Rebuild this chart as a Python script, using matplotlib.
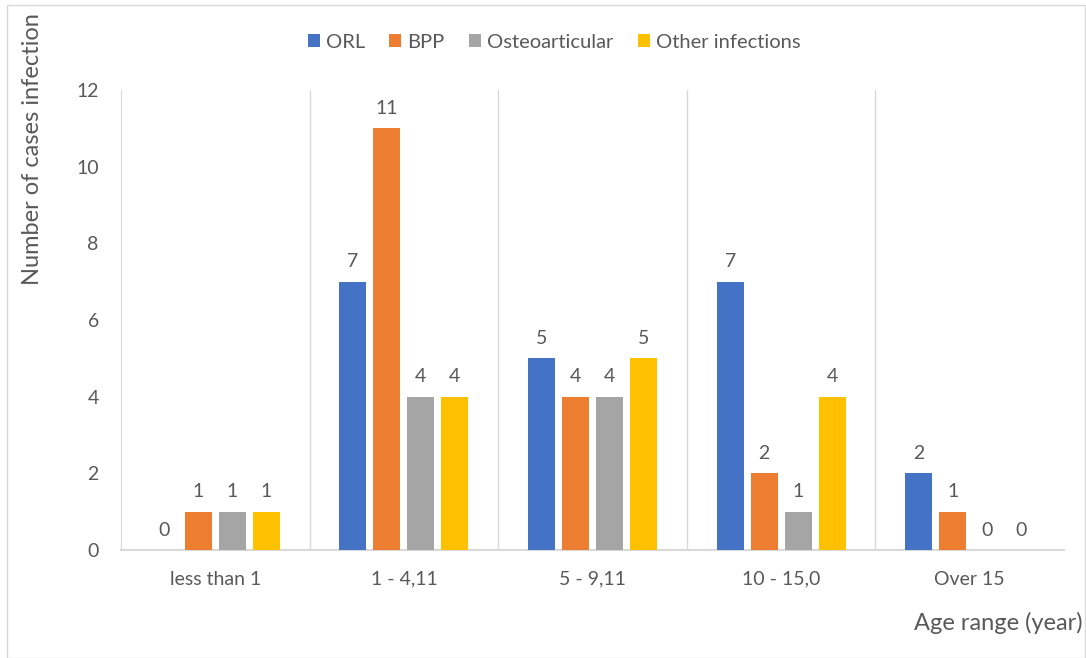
import numpy as np
import matplotlib.pyplot as plt
from matplotlib.patches import Rectangle

plt.rcParams["font.family"] = ["Lato", "DejaVu Sans"]

categories = ["less than 1", "1 - 4,11", "5 - 9,11", "10 - 15,0", "Over 15"]
series_names = ["ORL", "BPP", "Osteoarticular", "Other infections"]
orl = [0, 7, 5, 7, 2]
bpp = [1, 11, 4, 2, 1]
osteo = [1, 4, 4, 1, 0]
other = [1, 4, 5, 4, 0]
colors = ["#4472C4", "#ED7D31", "#A5A5A5", "#FFC000"]

TXT = "#595959"
GRID = "#D9D9D9"

fig = plt.figure(figsize=(10.86, 6.58), dpi=100)
ax = fig.add_axes((121 / 1086, 1 - 550 / 658, 943 / 1086, 460 / 658))

x = np.arange(len(categories))
step = 0.18
width = 0.143
for i, (vals, name, c) in enumerate(zip([orl, bpp, osteo, other], series_names, colors)):
    pos = x + (i - 1.5) * step
    ax.bar(pos, vals, width, color=c, label=name, zorder=3)
    for px, v in zip(pos, vals):
        ax.text(px, v + 0.3, str(v), ha="center", va="bottom", fontsize=14, color=TXT)

ax.set_xlim(-0.5, len(categories) - 0.5)
ax.set_ylim(0, 12)
ax.set_yticks(range(0, 13, 2))
ax.set_xticks(x)
ax.set_xticklabels(categories)
ax.tick_params(axis="both", length=0, labelsize=14, labelcolor=TXT)
ax.tick_params(axis="y", pad=16)
ax.tick_params(axis="x", pad=15)

for s in ["top", "right"]:
    ax.spines[s].set_visible(False)
ax.spines["left"].set_color(GRID)
ax.spines["bottom"].set_color(GRID)
ax.spines["bottom"].set_linewidth(1.5)
for b in np.arange(0.5, len(categories) - 1, 1):
    ax.axvline(b, color=GRID, lw=1, zorder=1)

fig.text(33 / 1086, 1 - 149 / 658, "Number of cases infection", rotation=90,
         ha="center", va="center", fontsize=17, color=TXT)
fig.text(1083 / 1086, 1 - 623 / 658, "Age range (year)", ha="right", va="center",
         fontsize=17, color=TXT)

fig.legend(loc="center", bbox_to_anchor=(554 / 1086, 1 - 42 / 658), ncol=4, frameon=False,
           fontsize=14.5, labelcolor=TXT, handlelength=0.6, handleheight=0.6,
           handletextpad=0.3, columnspacing=1.2)

fig.patches.append(Rectangle((7 / 1086, 0), 1078 / 1086, 1 - 5 / 658, transform=fig.transFigure,
                             fill=False, edgecolor=GRID, lw=1))

fig.savefig("out.png", dpi=100)
